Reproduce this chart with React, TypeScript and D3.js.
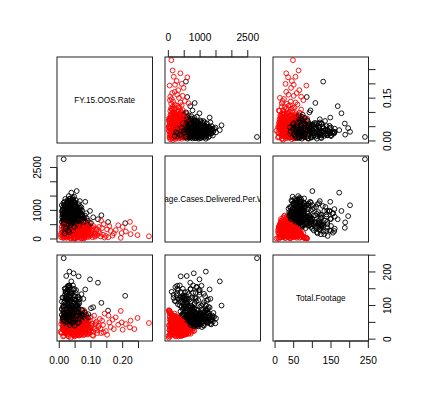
import React from "react";
import * as d3 from "d3";

const variableNames = ["FY.15.OOS.Rate", "Average.Cases.Delivered.Per.Week", "Total.Footage"];

// each store: [FY.15.OOS.Rate, Average.Cases.Delivered.Per.Week, Total.Footage]
const redStores: [number, number, number][] = [
  [0.283, 95, 48], [0.247, 135, 63], [0.237, 380, 30], [0.225, 170, 55], [0.223, 598, 35],
  [0.197, 209, 50], [0.194, 40, 84], [0.186, 480, 43], [0.178, 310, 65], [0.168, 120, 58],
  [0.162, 280, 36], [0.151, 335, 13], [0.147, 106, 24], [0.21, 260, 45], [0.2, 420, 28],
  [0.172, 200, 30], [0.158, 450, 50], [0.155, 60, 70], [0.143, 50, 76], [0.14, 520, 20],
  [0.138, 150, 42], [0.135, 380, 55], [0.132, 640, 18], [0.13, 90, 32],
  [0.036, 15, 4], [0.05, 6, 10], [0.004, 140, 22],
  [0.028, 760, 30], [0.055, 740, 22], [0.012, 680, 36], [0.066, 720, 34],
  [0.034, 820, 26], [0.047, 780, 32], [0.017, 800, 24], [0.072, 700, 28], [0.038, 660, 34],
  [0.012, 45, 8], [0.025, 120, 15], [0.041, 210, 22], [0.058, 95, 31], [0.073, 300, 18],
  [0.089, 160, 40], [0.105, 60, 12], [0.032, 380, 27], [0.018, 250, 35], [0.064, 430, 11],
  [0.047, 520, 14], [0.081, 75, 55], [0.095, 340, 25], [0.115, 190, 48], [0.028, 470, 38],
  [0.052, 140, 62], [0.037, 290, 45], [0.069, 210, 70], [0.021, 600, 20], [0.009, 330, 52],
  [0.077, 410, 33], [0.044, 65, 78], [0.061, 560, 24], [0.086, 255, 50], [0.099, 130, 66],
  [0.015, 180, 58], [0.035, 30, 42], [0.056, 360, 60], [0.072, 480, 42], [0.123, 270, 36],
  [0.027, 420, 10], [0.049, 30, 85], [0.066, 110, 20], [0.083, 620, 16], [0.031, 150, 48],
  [0.091, 390, 30], [0.011, 520, 30], [0.038, 340, 16], [0.059, 180, 44], [0.074, 90, 36],
  [0.108, 450, 22], [0.024, 270, 64], [0.043, 640, 28], [0.067, 310, 55], [0.019, 90, 26],
  [0.053, 470, 12], [0.079, 200, 28], [0.096, 560, 18], [0.034, 130, 72], [0.063, 40, 58],
  [0.016, 400, 44], [0.046, 300, 32], [0.071, 30, 80], [0.088, 440, 46], [0.112, 110, 30],
  [0.029, 550, 34], [0.055, 260, 18], [0.039, 200, 54], [0.084, 330, 62], [0.02, 140, 40],
  [0.065, 500, 36], [0.102, 290, 40], [0.007, 220, 18], [0.048, 80, 50], [0.076, 370, 12],
  [0.042, 700, 16], [0.06, 110, 72], [0.033, 460, 50], [0.092, 70, 22], [0.026, 320, 24],
  [0.117, 360, 52], [0.051, 390, 44], [0.014, 180, 68], [0.069, 590, 28], [0.036, 170, 30],
  [0.082, 120, 70], [0.045, 420, 60], [0.057, 50, 14], [0.023, 490, 22], [0.094, 230, 34],
  [0.013, 40, 80], [0.062, 330, 40], [0.078, 15, 86], [0.03, 240, 8], [0.05, 610, 32],
  [0.087, 180, 16], [0.04, 100, 36], [0.107, 380, 10], [0.017, 360, 28], [0.068, 140, 50],
  [0.128, 200, 60], [0.054, 280, 66], [0.022, 40, 66], [0.075, 520, 48], [0.035, 560, 40],
  [0.09, 300, 14], [0.01, 120, 30], [0.058, 420, 26], [0.045, 190, 12], [0.07, 20, 40],
  [0.028, 200, 76], [0.085, 460, 34], [0.12, 140, 18], [0.064, 250, 32], [0.039, 450, 20],
  [0.019, 640, 17], [0.097, 200, 56], [0.052, 340, 52], [0.074, 350, 22], [0.006, 60, 45],
  [0.033, 280, 40], [0.11, 150, 70], [0.048, 150, 24], [0.08, 550, 14], [0.025, 360, 56],
  [0.066, 440, 16], [0.043, 250, 46], [0.1, 420, 32], [0.015, 200, 10], [0.057, 120, 38],
  [0.037, 510, 30], [0.073, 230, 60], [0.029, 90, 54], [0.093, 150, 42], [0.061, 380, 34],
  [0.02, 450, 32], [0.047, 170, 68], [0.083, 400, 20], [0.012, 280, 38], [0.068, 330, 26],
  [0.05, 30, 28], [0.088, 80, 60], [0.034, 400, 36], [0.104, 330, 46], [0.026, 160, 20],
  [0.059, 490, 40], [0.041, 300, 62], [0.077, 130, 46], [0.018, 520, 42], [0.063, 190, 36],
  [0.095, 480, 26], [0.031, 60, 16], [0.054, 230, 56], [0.113, 80, 44], [0.044, 530, 14],
  [0.071, 290, 44], [0.008, 420, 20], [0.086, 350, 40], [0.036, 220, 62], [0.064, 610, 22],
  [0.022, 330, 48], [0.049, 450, 28], [0.118, 320, 26], [0.08, 50, 78], [0.03, 180, 34],
  [0.058, 310, 12], [0.039, 370, 58], [0.092, 260, 20], [0.016, 70, 50], [0.07, 420, 50],
  [0.045, 25, 84], [0.125, 420, 40], [0.055, 180, 30], [0.027, 580, 26], [0.101, 200, 24],
  [0.04, 270, 30], [0.075, 40, 26],
  [0.023, 210, 28], [0.041, 330, 20], [0.062, 150, 26], [0.078, 280, 34], [0.015, 110, 44],
  [0.054, 420, 18], [0.029, 300, 46], [0.087, 220, 48], [0.046, 80, 22], [0.067, 370, 44],
  [0.033, 520, 24], [0.011, 230, 50], [0.058, 200, 64], [0.096, 110, 36], [0.04, 440, 42],
  [0.071, 160, 14], [0.026, 60, 36], [0.051, 250, 38], [0.083, 500, 30], [0.019, 390, 18],
  [0.062, 430, 11], [0.037, 130, 56], [0.092, 350, 56], [0.014, 460, 26], [0.048, 320, 8],
];

const blackStores: [number, number, number][] = [
  [0.014, 2790, 241], [0.208, 553, 129], [0.154, 594, 85], [0.133, 830, 108], [0.122, 690, 168],
  [0.097, 980, 178], [0.082, 1300, 148], [0.061, 390, 187], [0.022, 580, 188], [0.045, 800, 196],
  [0.032, 1180, 201], [0.038, 1620, 172], [0.055, 1675, 100], [0.047, 1480, 47], [0.107, 760, 95],
  [0.065, 1325, 120], [0.008, 1180, 90], [0.03, 220, 155], [0.02, 105, 141], [0.012, 165, 123],
  [0.05, 1155, 128], [0.025, 280, 137], [0.035, 165, 132], [0.028, 280, 159], [0.02, 455, 150],
  [0.042, 1390, 70], [0.05, 1270, 96], [0.036, 1215, 114], [0.028, 990, 146], [0.03, 1045, 159],
  [0.048, 1250, 118], [0.026, 1356, 59], [0.045, 1200, 74],
  [0.021, 650, 70], [0.035, 820, 48], [0.012, 640, 60], [0.046, 980, 55], [0.028, 1100, 42],
  [0.018, 720, 72], [0.055, 600, 62], [0.04, 450, 75], [0.031, 880, 62], [0.009, 760, 88],
  [0.065, 700, 52], [0.024, 1250, 50], [0.038, 560, 68], [0.05, 830, 55], [0.015, 960, 48],
  [0.027, 400, 140], [0.043, 1020, 64], [0.06, 480, 92], [0.033, 690, 58], [0.019, 1180, 65],
  [0.072, 550, 66], [0.03, 300, 120], [0.048, 760, 80], [0.011, 880, 66], [0.037, 1350, 44],
  [0.025, 820, 52], [0.058, 920, 70], [0.041, 520, 60], [0.016, 1050, 88], [0.068, 780, 70],
  [0.034, 980, 140], [0.022, 460, 88], [0.052, 1150, 62], [0.029, 940, 45], [0.045, 380, 110],
  [0.013, 650, 96], [0.062, 880, 76], [0.036, 1230, 58], [0.02, 820, 40], [0.079, 640, 58],
  [0.032, 560, 56], [0.047, 700, 150], [0.017, 1300, 68], [0.039, 900, 42], [0.057, 1040, 54],
  [0.026, 500, 72], [0.07, 820, 50], [0.043, 620, 82], [0.01, 1000, 58], [0.035, 1420, 78],
  [0.053, 460, 68], [0.023, 940, 64], [0.064, 1080, 64], [0.03, 680, 46], [0.049, 860, 60],
  [0.014, 420, 96], [0.04, 1120, 135], [0.075, 500, 70], [0.027, 800, 38], [0.06, 740, 124],
  [0.019, 580, 62], [0.044, 1280, 76], [0.032, 360, 160], [0.087, 720, 56], [0.025, 1060, 36],
  [0.052, 540, 115], [0.037, 780, 44], [0.008, 600, 112], [0.067, 920, 66], [0.041, 1380, 60],
  [0.021, 860, 138], [0.055, 880, 45], [0.033, 1160, 84], [0.046, 420, 72], [0.016, 760, 46],
  [0.072, 1000, 74], [0.03, 960, 52], [0.05, 640, 66], [0.024, 340, 118], [0.061, 1220, 80],
  [0.038, 520, 140], [0.012, 1120, 40], [0.083, 600, 64], [0.044, 900, 62], [0.027, 700, 148],
  [0.057, 820, 92], [0.035, 600, 54], [0.019, 1400, 52], [0.048, 1080, 72], [0.066, 560, 64],
  [0.029, 880, 70], [0.04, 740, 50], [0.014, 520, 84], [0.053, 960, 146], [0.036, 1040, 48],
  [0.073, 840, 62], [0.023, 640, 60], [0.045, 1200, 86], [0.031, 440, 125], [0.062, 660, 78],
  [0.018, 980, 132], [0.049, 740, 56], [0.092, 480, 74], [0.026, 1320, 46], [0.038, 820, 62],
  [0.011, 860, 50], [0.058, 1100, 80], [0.034, 260, 130], [0.043, 780, 160], [0.02, 600, 140],
  [0.068, 1020, 58], [0.03, 1500, 62], [0.054, 380, 82], [0.025, 900, 156], [0.04, 640, 56],
  [0.077, 720, 70], [0.016, 840, 54], [0.047, 1300, 70], [0.033, 740, 76], [0.06, 500, 126],
  [0.022, 1060, 64], [0.051, 880, 44], [0.037, 480, 92], [0.085, 900, 72], [0.028, 580, 118],
  [0.045, 1040, 52], [0.013, 920, 62], [0.064, 820, 68], [0.035, 1240, 90], [0.042, 560, 108],
  [0.024, 760, 52], [0.056, 720, 60], [0.018, 1160, 56], [0.07, 640, 134], [0.032, 1000, 66],
  [0.049, 620, 74], [0.027, 480, 104], [0.039, 940, 86], [0.061, 960, 56], [0.015, 660, 52],
  [0.044, 840, 68], [0.076, 580, 120], [0.029, 1180, 74], [0.052, 780, 138], [0.021, 520, 122],
  [0.036, 700, 42], [0.066, 1140, 66], [0.041, 1060, 46], [0.01, 840, 124], [0.055, 520, 96],
  [0.031, 620, 66], [0.047, 980, 76], [0.09, 640, 64], [0.023, 1000, 44], [0.058, 700, 100],
  [0.034, 880, 154], [0.019, 380, 124], [0.043, 1440, 66], [0.028, 720, 48], [0.063, 580, 106],
  [0.038, 1080, 60], [0.05, 1260, 54], [0.016, 600, 70], [0.073, 780, 86], [0.026, 940, 38],
  [0.044, 460, 130], [0.057, 1000, 78], [0.032, 800, 84], [0.1, 560, 92], [0.017, 280, 150],
  [0.052, 1360, 66], [0.039, 660, 54], [0.069, 880, 88], [0.025, 1120, 58], [0.045, 300, 146],
  [0.029, 1040, 100], [0.008, 960, 72], [0.062, 460, 110], [0.034, 560, 66], [0.04, 1200, 52],
  [0.081, 820, 80], [0.022, 760, 50], [0.048, 660, 88], [0.013, 1260, 78], [0.03, 900, 58],
  [0.024, 900, 52], [0.036, 1100, 60], [0.018, 760, 56], [0.042, 980, 70], [0.03, 620, 64],
  [0.051, 1180, 58], [0.027, 1280, 62], [0.033, 860, 42], [0.046, 700, 78], [0.02, 1020, 74],
  [0.039, 540, 86], [0.058, 800, 48], [0.015, 1200, 54], [0.031, 1400, 64], [0.044, 660, 60],
  [0.026, 1150, 80], [0.037, 940, 56], [0.054, 1060, 68], [0.022, 680, 80], [0.048, 900, 40],
  [0.035, 760, 92], [0.011, 1040, 64], [0.062, 960, 50], [0.029, 520, 96], [0.041, 1240, 48],
  [0.017, 900, 78], [0.053, 640, 72], [0.034, 1320, 56], [0.025, 700, 66], [0.07, 1100, 70],
  [0.028, 300, 104], [0.034, 620, 98], [0.041, 880, 112], [0.019, 1080, 104], [0.047, 420, 118],
  [0.023, 760, 122], [0.052, 1000, 96], [0.015, 540, 108], [0.038, 1180, 100], [0.031, 240, 112],
  [0.044, 700, 94], [0.026, 940, 116], [0.058, 820, 104], [0.012, 720, 98], [0.036, 480, 124],
  [0.049, 1120, 110], [0.021, 360, 100], [0.033, 1300, 94], [0.042, 580, 92], [0.027, 860, 120],
  [0.061, 660, 118], [0.017, 200, 114],
];

const oosTicks = [0, 0.05, 0.1, 0.15, 0.2, 0.25];
const casesTicks = [0, 500, 1000, 1500, 2000, 2500];
const footageTicks = [0, 50, 100, 150, 200, 250];
const oosBottomLabels = [0, 0.1, 0.2];
const oosRightLabels = [0, 0.15];
const casesTopLabels = [0, 1000, 2500];
const casesLeftLabels = [0, 1000, 2500];
const footageBottomLabels = [0, 50, 150, 250];
const footageRightLabels = [0, 100, 200];

const WIDTH = 426;
const HEIGHT = 399;
const COL_LEFT = [57, 165, 273];
const ROW_TOP = [57, 156, 255];
const PANEL_W = 95.5;
const PANEL_H = 86;
const TICK = 7;
const LABEL_OFF = 19.5;
const FONT = '"Liberation Sans", Arial, Helvetica, sans-serif';
const FRAME = "#222";

type Side = "top" | "bottom" | "left" | "right";
interface AxisSpec { side: Side; v: number; row: number; col: number; ticks: number[]; labels: number[]; }

const axes: AxisSpec[] = [
  { side: "top", v: 1, row: 0, col: 1, ticks: casesTicks, labels: casesTopLabels },
  { side: "right", v: 0, row: 0, col: 2, ticks: oosTicks, labels: oosRightLabels },
  { side: "left", v: 1, row: 1, col: 0, ticks: casesTicks, labels: casesLeftLabels },
  { side: "right", v: 2, row: 2, col: 2, ticks: footageTicks, labels: footageRightLabels },
  { side: "bottom", v: 0, row: 2, col: 0, ticks: oosTicks, labels: oosBottomLabels },
  { side: "bottom", v: 2, row: 2, col: 2, ticks: footageTicks, labels: footageBottomLabels },
];

export default function App() {
  const points: { v: [number, number, number]; color: string }[] = [];
  const n = Math.max(redStores.length, blackStores.length);
  for (let i = 0; i < n; i++) {
    if (i < blackStores.length) points.push({ v: blackStores[i], color: "#000000" });
    if (i < redStores.length) points.push({ v: redStores[i], color: "#ff0000" });
  }
  const domains = [0, 1, 2].map((k) => {
    const [lo, hi] = d3.extent(points, (p) => p.v[k]) as [number, number];
    const r = hi - lo;
    return [lo - 0.04 * r, hi + 0.04 * r];
  });
  const xs = domains.map((d, j) => d3.scaleLinear().domain(d).range([COL_LEFT[j], COL_LEFT[j] + PANEL_W]));
  const ys = domains.map((d, i) => d3.scaleLinear().domain(d).range([ROW_TOP[i] + PANEL_H, ROW_TOP[i]]));
  const fmt = (v: number, k: number) => (k === 0 ? d3.format(".2f")(v) : String(v));

  const panels: JSX.Element[] = [];
  for (let i = 0; i < 3; i++) {
    for (let j = 0; j < 3; j++) {
      const x0 = COL_LEFT[j];
      const y0 = ROW_TOP[i];
      const key = `p${i}${j}`;
      if (i === j) {
        panels.push(
          <g key={key}>
            <clipPath id={`clip${key}`}>
              <rect x={x0} y={y0} width={PANEL_W} height={PANEL_H} />
            </clipPath>
            <text
              x={x0 + PANEL_W / 2}
              y={y0 + PANEL_H / 2}
              textAnchor="middle"
              dominantBaseline="central"
              fontSize={8.2}
              fontFamily={FONT}
              fill="#000"
              clipPath={`url(#clip${key})`}
            >
              {variableNames[i]}
            </text>
            <rect x={x0} y={y0} width={PANEL_W} height={PANEL_H} fill="none" stroke={FRAME} strokeWidth={1} />
          </g>
        );
      } else {
        panels.push(
          <g key={key}>
            <clipPath id={`clip${key}`}>
              <rect x={x0} y={y0} width={PANEL_W} height={PANEL_H} />
            </clipPath>
            <g clipPath={`url(#clip${key})`}>
              {points.map((p, idx) => (
                <circle
                  key={idx}
                  cx={xs[j](p.v[j])}
                  cy={ys[i](p.v[i])}
                  r={2.4}
                  fill="none"
                  stroke={p.color}
                  strokeWidth={0.9}
                />
              ))}
            </g>
            <rect x={x0} y={y0} width={PANEL_W} height={PANEL_H} fill="none" stroke={FRAME} strokeWidth={1} />
          </g>
        );
      }
    }
  }

  const axisEls = axes.map((a, ai) => {
    const horizontal = a.side === "top" || a.side === "bottom";
    const scale = horizontal ? xs[a.v] : ys[a.v];
    const dom = domains[a.v];
    const ticks = a.ticks.filter((t) => t >= dom[0] - 1e-9 && t <= dom[1] + 1e-9);
    const first = scale(ticks[0]);
    const last = scale(ticks[ticks.length - 1]);
    const isLabeled = (t: number) => a.labels.some((l) => Math.abs(l - t) < 1e-9);
    if (horizontal) {
      const base = a.side === "top" ? ROW_TOP[a.row] : ROW_TOP[a.row] + PANEL_H;
      const dir = a.side === "top" ? -1 : 1;
      return (
        <g key={`ax${ai}`}>
          <line x1={first} x2={last} y1={base} y2={base} stroke={FRAME} strokeWidth={1} />
          {ticks.map((t) => (
            <line key={t} x1={scale(t)} x2={scale(t)} y1={base} y2={base + dir * TICK} stroke={FRAME} strokeWidth={1} />
          ))}
          {ticks.filter(isLabeled).map((t) => (
            <text
              key={`l${t}`}
              x={scale(t)}
              y={base + dir * LABEL_OFF}
              textAnchor="middle"
              dominantBaseline="central"
              fontSize={10.2}
              fontFamily={FONT}
              fill="#000"
            >
              {fmt(t, a.v)}
            </text>
          ))}
        </g>
      );
    }
    const base = a.side === "left" ? COL_LEFT[a.col] : COL_LEFT[a.col] + PANEL_W;
    const dir = a.side === "left" ? -1 : 1;
    return (
      <g key={`ax${ai}`}>
        <line x1={base} x2={base} y1={first} y2={last} stroke={FRAME} strokeWidth={1} />
        {ticks.map((t) => (
          <line key={t} x1={base} x2={base + dir * TICK} y1={scale(t)} y2={scale(t)} stroke={FRAME} strokeWidth={1} />
        ))}
        {ticks.filter(isLabeled).map((t) => {
          const lx = base + dir * LABEL_OFF;
          const ly = scale(t);
          return (
            <text
              key={`l${t}`}
              x={lx}
              y={ly}
              transform={`rotate(-90 ${lx} ${ly})`}
              textAnchor="middle"
              dominantBaseline="central"
              fontSize={10.2}
              fontFamily={FONT}
              fill="#000"
            >
              {fmt(t, a.v)}
            </text>
          );
        })}
      </g>
    );
  });

  return (
    <svg
      width={WIDTH}
      height={HEIGHT}
      viewBox={`0 0 ${WIDTH} ${HEIGHT}`}
      style={{ position: "absolute", left: 0, top: 0, background: "#fff" }}
    >
      <rect x={0} y={0} width={WIDTH} height={HEIGHT} fill="#fff" />
      {panels}
      {axisEls}
    </svg>
  );
}
